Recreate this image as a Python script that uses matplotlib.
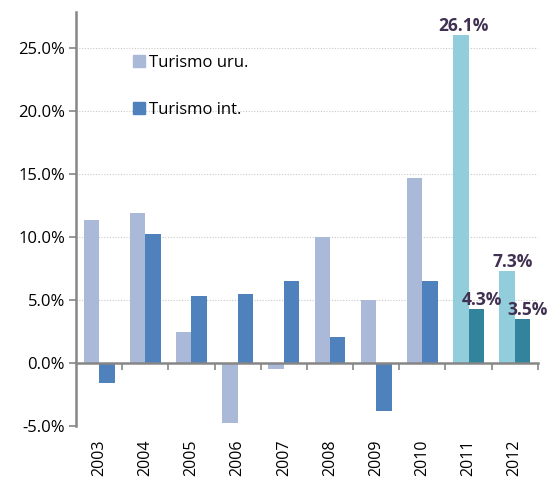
#!/usr/bin/env python3
import numpy as np
import matplotlib
matplotlib.use("Agg")
import matplotlib.pyplot as plt
from matplotlib.patches import Patch
from matplotlib.ticker import FuncFormatter

years = ["2003", "2004", "2005", "2006", "2007", "2008", "2009", "2010", "2011", "2012"]
turismo_uru = [11.4, 11.9, 2.5, -4.8, -0.5, 10.0, 5.0, 14.7, 26.1, 7.3]
turismo_int = [-1.6, 10.25, 5.3, 5.45, 6.55, 2.1, -3.8, 6.55, 4.3, 3.5]
labeled_years = ["2011", "2012"]

c_uru = "#AAB9D7"
c_int = "#4F81BD"
c_uru_hi = "#92CDDC"
c_int_hi = "#31849B"
c_label = "#403152"
c_axis = "#868686"

plt.rcParams["font.family"] = ["Open Sans", "DejaVu Sans"]

fig = plt.figure(figsize=(5.51, 4.78), dpi=100)
ax = fig.add_axes([0.138, 0.109, 0.838, 0.866])

x = np.arange(len(years)) + 0.5
w = 0.335
for i, yr in enumerate(years):
    hi = yr in labeled_years
    cu = c_uru_hi if hi else c_uru
    ci = c_int_hi if hi else c_int
    ax.bar(x[i] - w / 2, turismo_uru[i], w, color=cu, linewidth=0, zorder=3)
    ax.bar(x[i] + w / 2, turismo_int[i], w, color=ci, linewidth=0, zorder=3)
    if hi:
        # etiquetas solo para los dos ultimos años
        dx = 2 if turismo_uru[i] > 20 else 4
        ax.annotate(f"{turismo_uru[i]:.1f}%", (x[i] - w / 2, turismo_uru[i]), xytext=(dx, 0),
                    textcoords="offset points", ha="center", va="bottom",
                    fontsize=12.5, fontweight="bold", color=c_label, zorder=5)
        ax.annotate(f"{turismo_int[i]:.1f}%", (x[i] + w / 2, turismo_int[i]), xytext=(4, 0),
                    textcoords="offset points", ha="center", va="bottom",
                    fontsize=12.5, fontweight="bold", color=c_label, zorder=5)

ax.set_xlim(0, len(years))
ax.set_ylim(-5, 27.9)
ax.set_yticks(np.arange(-5, 26, 5))
ax.yaxis.set_major_formatter(FuncFormatter(lambda v, p: f"{v:.1f}%"))
ax.tick_params(axis="y", length=5, width=1.2, color=c_axis, labelsize=12, pad=3)

for v in np.arange(-5, 26, 5):
    if v != 0:
        ax.axhline(v, color="#C8C8C8", linestyle=(0, (1, 1.5)), linewidth=0.8, zorder=1)

ax.spines["top"].set_visible(False)
ax.spines["right"].set_visible(False)
ax.spines["left"].set_color(c_axis)
ax.spines["left"].set_linewidth(1.8)
ax.spines["bottom"].set_position(("data", 0))
ax.spines["bottom"].set_color(c_axis)
ax.spines["bottom"].set_linewidth(1.8)
ax.spines["bottom"].set_zorder(4)
ax.set_xticks(np.arange(1, len(years) + 1))
ax.set_xticklabels([])
ax.tick_params(axis="x", direction="out", length=5, width=1.2, color=c_axis)

for xi, yr in zip(x, years):
    ax.annotate(yr, (xi, 0), xycoords=("data", "axes fraction"), xytext=(0, -10),
                textcoords="offset points", ha="center", va="top", rotation=90, fontsize=11.5)

handles = [Patch(color=c_uru, label="Turismo uru."), Patch(color=c_int, label="Turismo int.")]
ax.legend(handles=handles, loc="upper left", bbox_to_anchor=(0.09, 0.932), frameon=False,
          fontsize=12, handlelength=0.75, handleheight=0.75, handletextpad=0.25, labelspacing=1.85)

fig.savefig("out.png", dpi=100)
